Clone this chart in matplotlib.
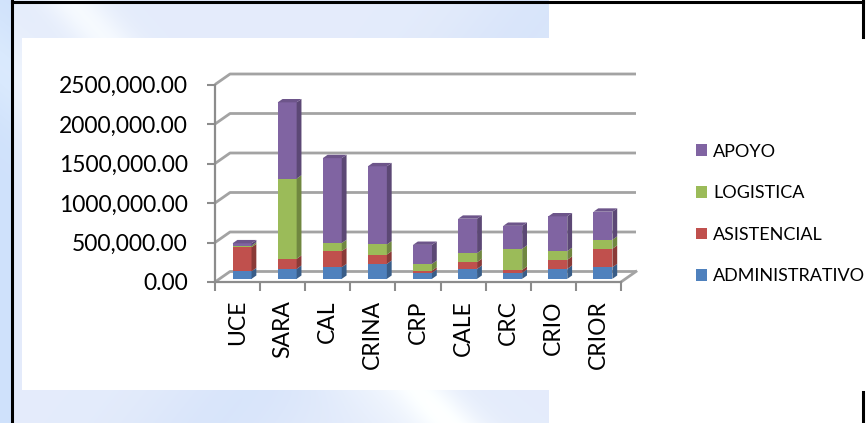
import numpy as np
import matplotlib.pyplot as plt
from matplotlib.patches import Polygon, Rectangle

plt.rcParams['font.family'] = ['Lato', 'DejaVu Sans']

categories = ['UCE', 'SARA', 'CAL', 'CRINA', 'CRP', 'CALE', 'CRC', 'CRIO', 'CRIOR']
administrativo = [95000, 127000, 148000, 190000, 76000, 127000, 76000, 127000, 148000]
asistencial = [305000, 127000, 203000, 118000, 29000, 85000, 38000, 114000, 233000]
logistica = [20000, 1015000, 102000, 127000, 85000, 114000, 267000, 110000, 114000]
apoyo = [30000, 965000, 1075000, 990000, 240000, 435000, 290000, 440000, 355000]

series_names = ['ADMINISTRATIVO', 'ASISTENCIAL', 'LOGISTICA', 'APOYO']
series_colors = ['#4f81bd', '#c0504d', '#9bbb59', '#8064a2']
y_ticks = [0, 500000, 1000000, 1500000, 2000000, 2500000]
y_tick_labels = ['0.00', '500,000.00', '1000,000.00', '1500,000.00',
                 '2000,000.00', '2500,000.00']

W, H = 867, 423
fig = plt.figure(figsize=(W / 100, H / 100), dpi=100)

# slide background: pale blue wash with a few diagonal streaks on the left part
bg = fig.add_axes([0, 0, 1, 1])
bg.set_xlim(0, W)
bg.set_ylim(H, 0)
bg.axis('off')
xx, yy = np.meshgrid(np.arange(549), np.arange(H))
streak1 = np.exp(-((xx - 0.9 * yy - 70) / 30.0) ** 2)
streak2 = np.exp(-((xx + 0.8 * yy - 560) / 90.0) ** 2)
streak3 = np.exp(-((xx - 1.2 * yy + 80) / 60.0) ** 2)
base = np.array([0.895, 0.925, 0.985])
img = np.ones((H, 549, 3)) * base
img += 0.07 * streak1[..., None] * np.array([1.0, 0.8, 0.2])
img -= 0.045 * streak2[..., None] * np.array([1.0, 0.6, 0.1])
img += 0.04 * streak3[..., None] * np.array([1.0, 0.8, 0.2])
img[:, :12] -= np.array([0.08, 0.04, 0.0])
img = np.clip(img, 0, 1)
bg.imshow(img, extent=(0, 549, H, 0), aspect='auto', interpolation='bilinear')
bg.add_patch(Rectangle((22, 38), W - 22, 352, facecolor='white', edgecolor='none'))
bg.plot([12, 12], [0, H], color='black', lw=2.2)
bg.plot([12, 862.5], [2, 2], color='black', lw=2.2)
bg.plot([862.5, 862.5], [0, 37], color='black', lw=2.2)
bg.plot([862.5, 862.5], [392, H], color='black', lw=2.2)

# chart plot area, front axis at left/bottom, back wall offset by (dx, dy)
ax = fig.add_axes([215 / W, 1 - 282 / H, 421 / W, 208 / H])
ax.patch.set_alpha(0)
n = len(categories)
dx = 1 / 3
dy = 133000
ax.set_xlim(0, n + dx)
ax.set_ylim(0, y_ticks[-1] + dy)

grid_col = '#a3a3a3'
for v in y_ticks:
    ax.plot([0, dx, n + dx], [v, v + dy, v + dy], color=grid_col, lw=2.0,
            solid_capstyle='butt', zorder=1, clip_on=False)
ax.plot([n, n + dx], [0, dy], color=grid_col, lw=2.0, zorder=1, clip_on=False)

for side in ['top', 'right']:
    ax.spines[side].set_visible(False)
ax.spines['left'].set_bounds(0, y_ticks[-1])
ax.spines['bottom'].set_bounds(0, n)
for side in ['left', 'bottom']:
    ax.spines[side].set_color('#8c8c8c')
    ax.spines[side].set_linewidth(1.6)

ax.set_yticks(y_ticks, y_tick_labels)
ax.tick_params(axis='y', length=6, width=1.5, color='#8c8c8c', pad=13.5,
               labelsize=16.5)
ax.set_xticks(np.arange(n) + 0.5, categories, rotation=90)
ax.set_xticks(np.arange(n + 1), minor=True)
ax.tick_params(axis='x', which='major', length=0, pad=13, labelsize=16.5)
ax.tick_params(axis='x', which='minor', length=6.5, width=1.5, color='#8c8c8c')


def shade(hex_col, k):
    r, g, b = [int(hex_col[i:i + 2], 16) / 255 for i in (1, 3, 5)]
    return (r * k, g * k, b * k)


# stacked pseudo-3D bars
w = 0.42
f = 0.3
d = 0.32
x0 = np.arange(n) + 0.5 - w / 2 + f * dx
xr = x0 + w
bottom = np.zeros(n) + f * dy
for vals, col in zip([administrativo, asistencial, logistica, apoyo], series_colors):
    vals = np.array(vals, dtype=float)
    ax.bar(x0, vals, width=w, bottom=bottom, align='edge', color=col,
           edgecolor='none', zorder=3)
    for i in range(n):
        y0, y1 = bottom[i], bottom[i] + vals[i]
        ax.add_patch(Polygon([(xr[i], y0), (xr[i] + d * dx, y0 + d * dy),
                              (xr[i] + d * dx, y1 + d * dy), (xr[i], y1)],
                             closed=True, facecolor=shade(col, 0.72),
                             edgecolor='none', zorder=3))
    bottom = bottom + vals

top_col = shade(series_colors[-1], 0.85)
for i in range(n):
    t = bottom[i]
    ax.add_patch(Polygon([(x0[i], t), (xr[i], t), (xr[i] + d * dx, t + d * dy),
                          (x0[i] + d * dx, t + d * dy)],
                         closed=True, facecolor=top_col, edgecolor='none', zorder=3))

handles = [Rectangle((0, 0), 1, 1, facecolor=c, edgecolor='none') for c in series_colors]
fig.legend(handles[::-1], series_names[::-1], loc='center left',
           bbox_to_anchor=(696 / W, 1 - 214 / H), frameon=False, fontsize=13,
           handlelength=0.6, handleheight=0.6, handletextpad=0.35,
           labelspacing=1.42, borderpad=0, borderaxespad=0)

fig.savefig('out.png', dpi=100)
